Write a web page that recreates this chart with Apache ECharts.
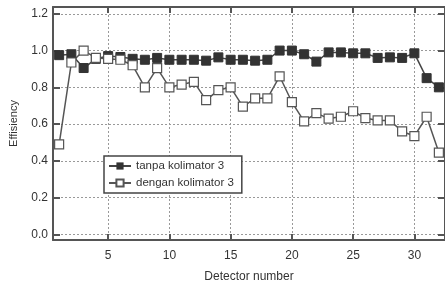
<!DOCTYPE html>
<html><head><meta charset="utf-8">
<script src="https://cdn.jsdelivr.net/npm/echarts@6/dist/echarts.min.js"></script>
<style>html,body{margin:0;padding:0;background:#fff}#c{width:445px;height:288px}</style>
</head><body><div id="c"></div>
<script>
const detectors = [1,2,3,4,5,6,7,8,9,10,11,12,13,14,15,16,17,18,19,20,21,22,23,24,25,26,27,28,29,30,31,32];
const tanpa = [0.975,0.98,0.905,0.955,0.97,0.965,0.955,0.95,0.96,0.95,0.95,0.95,0.945,0.963,0.95,0.95,0.945,0.95,1.0,1.0,0.98,0.94,0.99,0.99,0.985,0.985,0.96,0.963,0.96,0.985,0.85,0.80];
const dengan = [0.49,0.935,1.0,0.96,0.955,0.95,0.92,0.80,0.905,0.80,0.815,0.83,0.73,0.785,0.80,0.695,0.74,0.74,0.86,0.72,0.615,0.66,0.63,0.64,0.67,0.633,0.62,0.62,0.56,0.535,0.64,0.445];
const xTicks = [5,10,15,20,25,30];
const yTicks = [0,0.2,0.4,0.6,0.8,1.0,1.2];
const seriesNames = ['tanpa kolimator 3','dengan kolimator 3'];

const chart = echarts.init(document.getElementById('c'));
const axisCol = '#555';
const font = 'Liberation Sans, Arial, sans-serif';
const split = {show:true, lineStyle:{color:'#999', type:[2,2], width:1}};
function xa(pos, labels){
  return {type:'value', position:pos, min:0.5, max:32.5,
    axisLine:{show:true, onZero:false, lineStyle:{color:axisCol,width:2}},
    axisTick:{show:true, inside:true, length:6, customValues:xTicks, lineStyle:{color:axisCol,width:2}},
    axisLabel:{show:labels, customValues:xTicks, color:'#333', fontSize:12, fontFamily:font, margin:10, formatter:v=>String(v)},
    splitLine: labels ? split : {show:false},
    name: labels ? 'Detector number' : '', nameLocation:'middle', nameGap:31,
    nameTextStyle:{color:'#333', fontSize:12, fontFamily:font}};
}
function ya(pos, labels){
  return {type:'value', position:pos, min:-0.0305, max:1.237,
    axisLine:{show:true, onZero:false, lineStyle:{color:axisCol,width:2}},
    axisTick:{show:true, inside:true, length:7, customValues:yTicks, lineStyle:{color:axisCol,width:2}},
    axisLabel:{show:labels, customValues:yTicks, color:'#333', fontSize:12, fontFamily:font, margin:5, formatter:v=>v.toFixed(1)},
    splitLine: labels ? split : {show:false},
    name: labels ? 'Effisiency' : '', nameLocation:'middle', nameGap:34,
    nameTextStyle:{color:'#333', fontSize:11, fontFamily:font}};
}
chart.setOption({
  animation:false,
  backgroundColor:'#fff',
  grid:{left:51, right:-3, top:7, bottom:44},
  xAxis:[xa('bottom',true), xa('top',false)],
  yAxis:[ya('left',true), ya('right',false)],
  legend:{left:104, top:156, orient:'vertical', data:seriesNames,
    backgroundColor:'#fff', borderColor:'#444', borderWidth:1.5, borderRadius:0,
    padding:[4,8,4,4], itemGap:5, itemWidth:22, itemHeight:9,
    textStyle:{color:'#333', fontSize:11.5, lineHeight:12, fontFamily:font}},
  series:[
    {name:seriesNames[0], type:'line', data:detectors.map((d,i)=>[d,tanpa[i]]),
      symbol:'rect', symbolSize:9, lineStyle:{color:'#444',width:1.5},
      itemStyle:{color:'#333', borderColor:'#333'}},
    {name:seriesNames[1], type:'line', data:detectors.map((d,i)=>[d,dengan[i]]),
      symbol:'rect', symbolSize:9, lineStyle:{color:'#555',width:1.5},
      itemStyle:{color:'#fff', borderColor:'#555', borderWidth:1.2}}
  ]
});
</script></body></html>
